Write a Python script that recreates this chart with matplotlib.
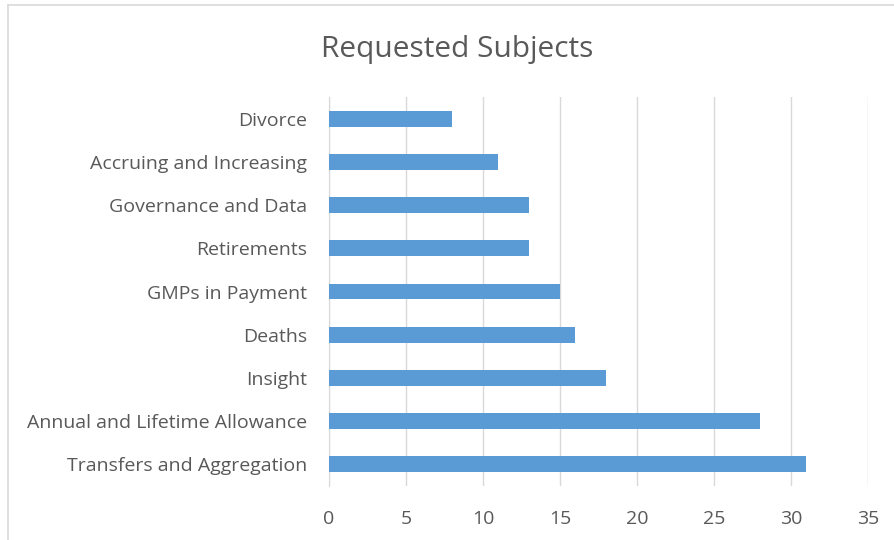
import matplotlib
matplotlib.use("Agg")
import matplotlib.pyplot as plt
from matplotlib.lines import Line2D

categories = ["Transfers and Aggregation", "Annual and Lifetime Allowance", "Insight",
              "Deaths", "GMPs in Payment", "Retirements", "Governance and Data",
              "Accruing and Increasing", "Divorce"]
values = [31, 28, 18, 16, 15, 13, 13, 11, 8]
xticks = [0, 5, 10, 15, 20, 25, 30, 35]

plt.rcParams['font.family'] = ['Open Sans', 'DejaVu Sans']
txt = '#595959'
fig = plt.figure(figsize=(8.95, 5.4), dpi=100)
W, H = 895, 540
ax = fig.add_axes([329 / W, 1 - 486 / H, (868 - 329) / W, (486 - 97) / H])
ypos = list(range(len(categories)))
ax.barh(ypos, values, height=0.37, color='#5B9BD5', zorder=3)
ax.set_xlim(0, 35)
ax.set_ylim(-0.5, len(categories) - 0.5)
ax.set_xticks(xticks)
ax.set_xticklabels([str(t) for t in xticks])
ax.set_yticks(ypos)
ax.set_yticklabels(categories)
ax.grid(axis='x', color='#D9D9D9', linewidth=1, zorder=0)
for s in ['top', 'right', 'bottom']:
    ax.spines[s].set_visible(False)
ax.spines['left'].set_color('#D9D9D9')
ax.tick_params(axis='both', length=0, labelsize=14, labelcolor=txt)
ax.tick_params(axis='y', pad=16)
ax.tick_params(axis='x', pad=17)
fig.text(457 / W, 1 - 50 / H, "Requested Subjects", ha='center', va='center',
         fontsize=21.5, color=txt)
fig.add_artist(Line2D([8 / W, 1], [1 - 5 / H, 1 - 5 / H], color='#D9D9D9', lw=1.2,
                      transform=fig.transFigure))
fig.add_artist(Line2D([8 / W, 8 / W], [0, 1 - 5 / H], color='#D9D9D9', lw=1.2,
                      transform=fig.transFigure))
fig.savefig("out.png", dpi=100)
